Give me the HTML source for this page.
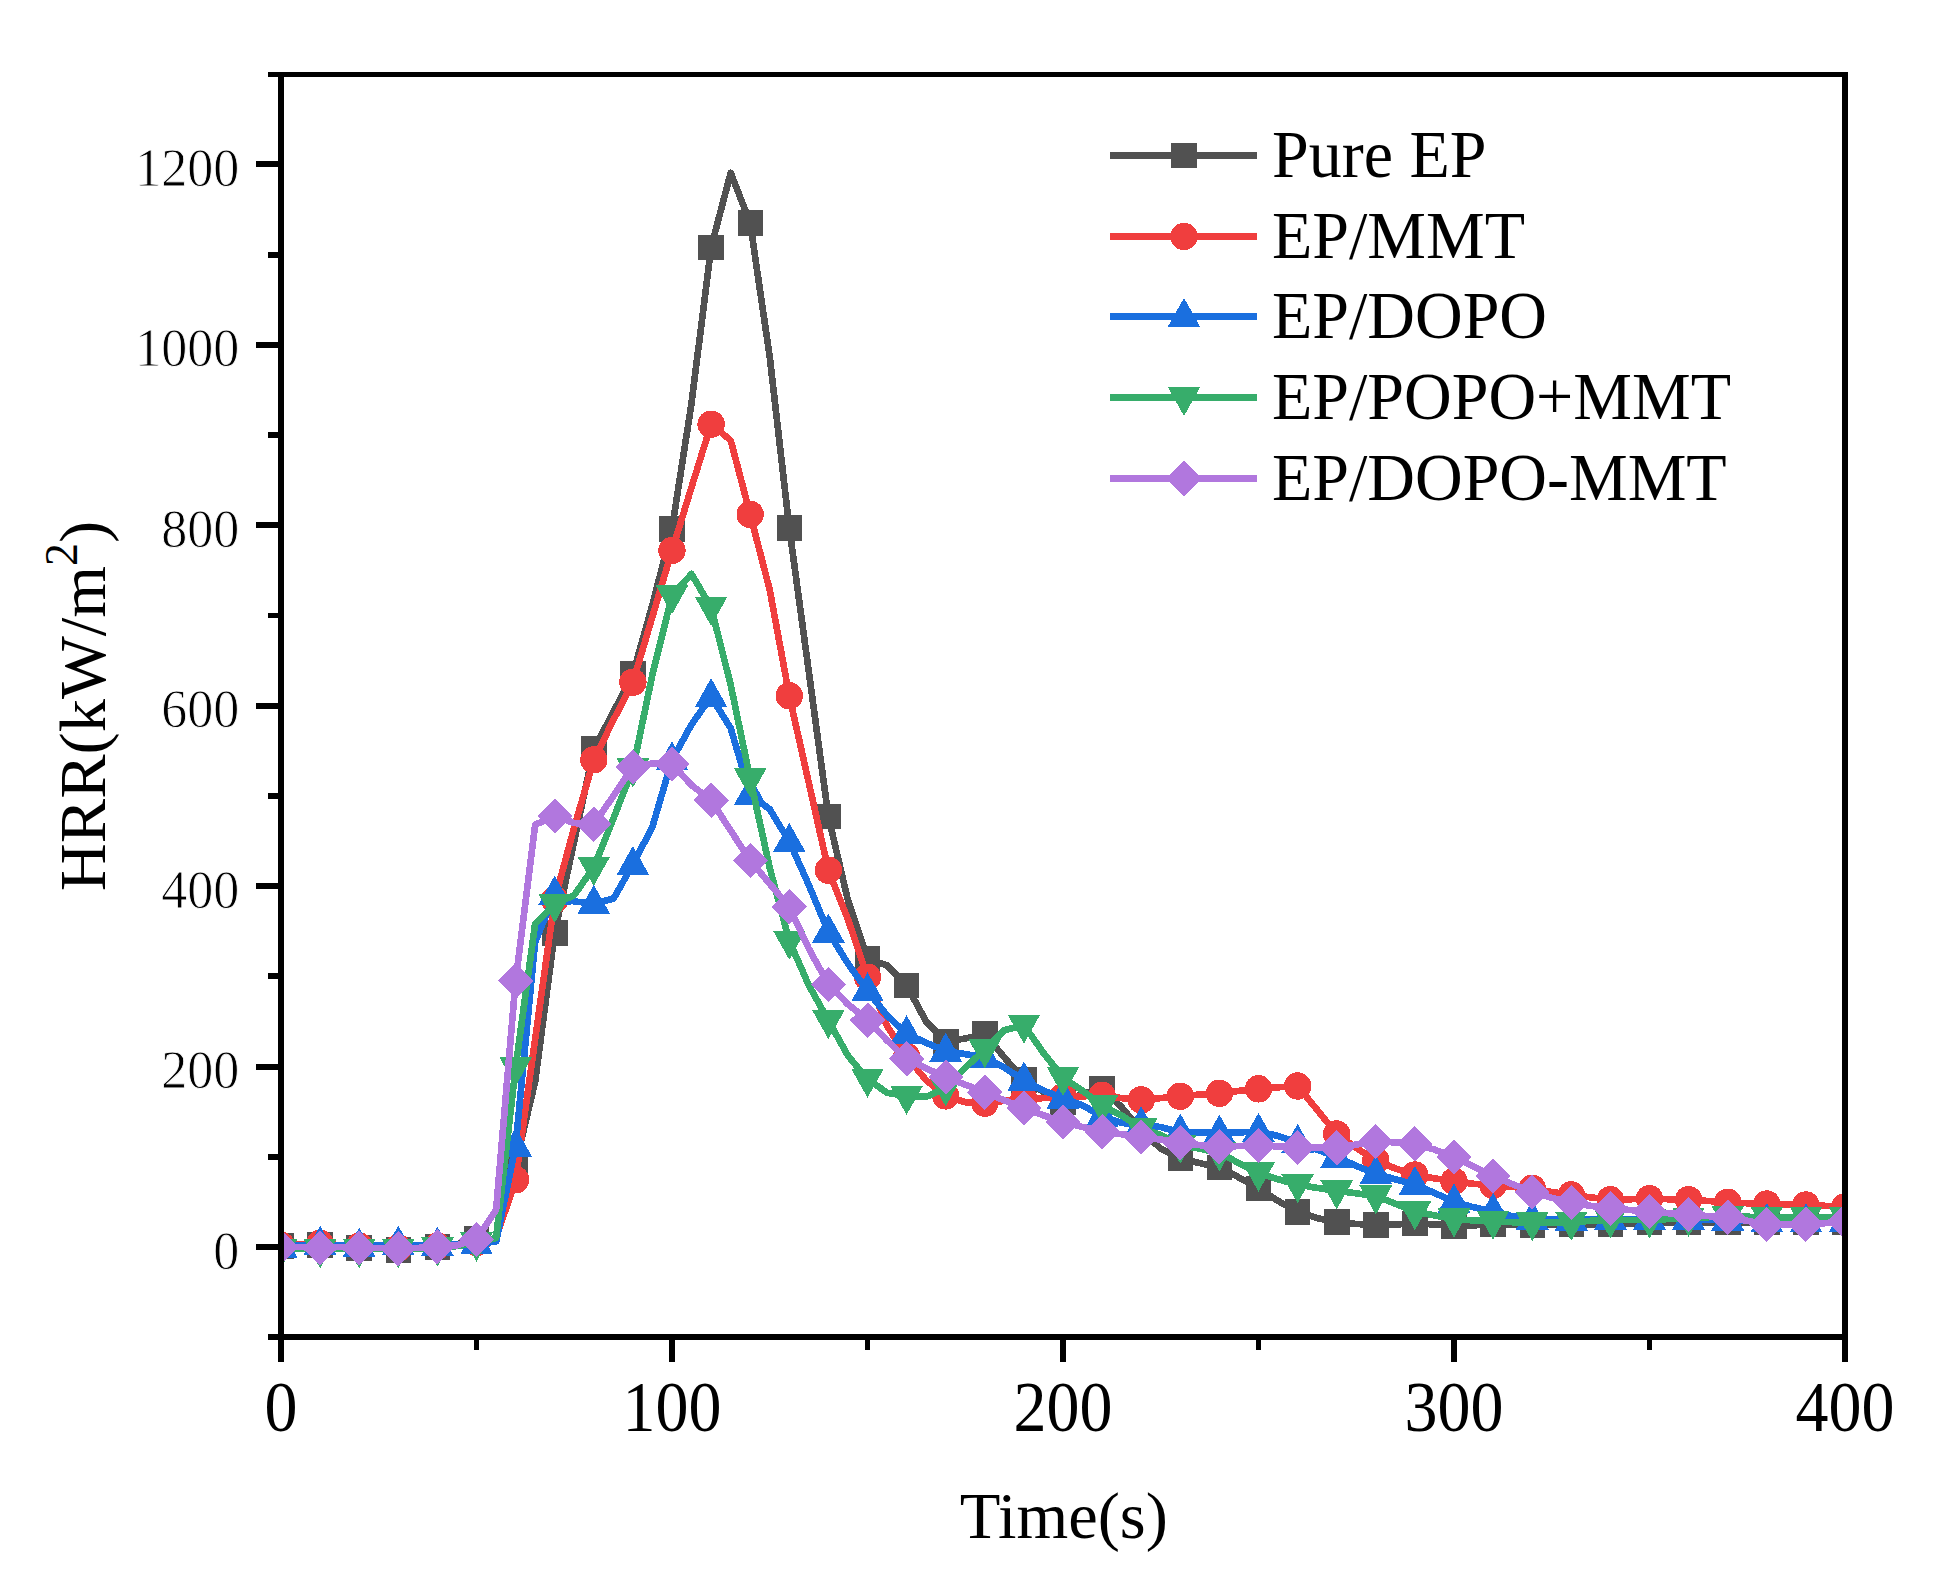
<!DOCTYPE html>
<html lang="en">
<head>
<meta charset="utf-8">
<title>HRR curves</title>
<style>
html,body{margin:0;padding:0;background:#fff;}
body{width:1936px;height:1582px;overflow:hidden;}
svg{display:block;}
text{font-family:"Liberation Serif",serif;fill:#000;}
.yt{font-size:52px;text-anchor:end;stroke:#fff;stroke-width:0.8px;}
.xt{font-size:66px;text-anchor:middle;}
.lg{font-size:66px;}
.ax{stroke:#000;stroke-width:5.9;fill:none;stroke-linecap:butt;}
</style>
</head>
<body>
<svg width="1936" height="1582" viewBox="0 0 1936 1582" shape-rendering="crispEdges">
<rect x="0" y="0" width="1936" height="1582" fill="#ffffff"/>
<defs><clipPath id="plot"><rect x="281" y="74" width="1564" height="1263"/></clipPath></defs>

<g clip-path="url(#plot)">
<g id="s-gray">
<polyline points="281.0,1246.1 300.6,1247.0 320.1,1245.2 339.6,1246.1 359.2,1247.9 378.8,1248.8 398.3,1249.7 417.9,1247.9 437.4,1247.0 457.0,1244.3 476.5,1238.9 496.1,1239.8 515.6,1164.0 535.1,1081.9 554.7,933.0 574.2,841.0 593.8,749.0 613.4,712.0 632.9,674.1 652.5,604.6 672.0,528.8 691.5,403.4 711.1,247.4 730.7,172.9 750.2,223.0 769.8,357.4 789.3,527.9 808.9,672.3 828.4,816.7 848.0,900.6 867.5,958.3 887.1,965.5 906.6,985.4 926.1,1021.5 945.7,1041.3 965.2,1038.6 984.8,1034.1 1004.4,1057.5 1023.9,1080.1 1043.5,1091.8 1063.0,1102.6 1082.6,1093.6 1102.1,1089.1 1121.7,1107.2 1141.2,1130.6 1160.8,1148.7 1180.3,1158.6 1199.8,1163.1 1219.4,1167.6 1239.0,1177.5 1258.5,1188.4 1278.1,1201.0 1297.6,1211.8 1317.2,1218.1 1336.7,1222.2 1356.2,1224.0 1375.8,1224.8 1395.4,1224.4 1414.9,1223.5 1434.5,1224.4 1454.0,1225.7 1473.5,1225.3 1493.1,1224.6 1512.7,1224.9 1532.2,1225.3 1551.8,1224.4 1571.3,1224.4 1590.9,1224.4 1610.4,1224.4 1630.0,1223.5 1649.5,1222.6 1669.0,1222.6 1688.6,1222.6 1708.2,1222.6 1727.7,1222.6 1747.2,1222.6 1766.8,1222.6 1786.4,1222.6 1805.9,1222.6 1825.5,1222.6 1845.0,1222.6" fill="none" stroke="#515151" stroke-width="6.7" stroke-linejoin="round" stroke-linecap="butt"/>
<rect x="268.2" y="1233.3" width="25.5" height="25.5" fill="#515151"/>
<rect x="307.4" y="1232.4" width="25.5" height="25.5" fill="#515151"/>
<rect x="346.4" y="1235.2" width="25.5" height="25.5" fill="#515151"/>
<rect x="385.6" y="1237.0" width="25.5" height="25.5" fill="#515151"/>
<rect x="424.6" y="1234.2" width="25.5" height="25.5" fill="#515151"/>
<rect x="463.8" y="1226.1" width="25.5" height="25.5" fill="#515151"/>
<rect x="502.9" y="1151.2" width="25.5" height="25.5" fill="#515151"/>
<rect x="542.0" y="920.3" width="25.5" height="25.5" fill="#515151"/>
<rect x="581.0" y="736.2" width="25.5" height="25.5" fill="#515151"/>
<rect x="620.2" y="661.4" width="25.5" height="25.5" fill="#515151"/>
<rect x="659.2" y="516.1" width="25.5" height="25.5" fill="#515151"/>
<rect x="698.4" y="234.6" width="25.5" height="25.5" fill="#515151"/>
<rect x="737.5" y="210.3" width="25.5" height="25.5" fill="#515151"/>
<rect x="776.5" y="515.2" width="25.5" height="25.5" fill="#515151"/>
<rect x="815.6" y="803.9" width="25.5" height="25.5" fill="#515151"/>
<rect x="854.8" y="945.5" width="25.5" height="25.5" fill="#515151"/>
<rect x="893.9" y="972.6" width="25.5" height="25.5" fill="#515151"/>
<rect x="933.0" y="1028.5" width="25.5" height="25.5" fill="#515151"/>
<rect x="972.1" y="1021.3" width="25.5" height="25.5" fill="#515151"/>
<rect x="1011.1" y="1067.3" width="25.5" height="25.5" fill="#515151"/>
<rect x="1050.2" y="1089.9" width="25.5" height="25.5" fill="#515151"/>
<rect x="1089.3" y="1076.4" width="25.5" height="25.5" fill="#515151"/>
<rect x="1128.5" y="1117.9" width="25.5" height="25.5" fill="#515151"/>
<rect x="1167.6" y="1145.8" width="25.5" height="25.5" fill="#515151"/>
<rect x="1206.7" y="1154.9" width="25.5" height="25.5" fill="#515151"/>
<rect x="1245.8" y="1175.6" width="25.5" height="25.5" fill="#515151"/>
<rect x="1284.8" y="1199.1" width="25.5" height="25.5" fill="#515151"/>
<rect x="1324.0" y="1209.4" width="25.5" height="25.5" fill="#515151"/>
<rect x="1363.0" y="1212.1" width="25.5" height="25.5" fill="#515151"/>
<rect x="1402.2" y="1210.8" width="25.5" height="25.5" fill="#515151"/>
<rect x="1441.2" y="1213.0" width="25.5" height="25.5" fill="#515151"/>
<rect x="1480.4" y="1211.9" width="25.5" height="25.5" fill="#515151"/>
<rect x="1519.5" y="1212.6" width="25.5" height="25.5" fill="#515151"/>
<rect x="1558.5" y="1211.7" width="25.5" height="25.5" fill="#515151"/>
<rect x="1597.7" y="1211.7" width="25.5" height="25.5" fill="#515151"/>
<rect x="1636.8" y="1209.9" width="25.5" height="25.5" fill="#515151"/>
<rect x="1675.9" y="1209.9" width="25.5" height="25.5" fill="#515151"/>
<rect x="1715.0" y="1209.9" width="25.5" height="25.5" fill="#515151"/>
<rect x="1754.0" y="1209.9" width="25.5" height="25.5" fill="#515151"/>
<rect x="1793.2" y="1209.9" width="25.5" height="25.5" fill="#515151"/>
<rect x="1832.2" y="1209.9" width="25.5" height="25.5" fill="#515151"/>
</g>
<g id="s-red">
<polyline points="281.0,1245.2 300.6,1244.3 320.1,1243.4 339.6,1245.2 359.2,1246.1 378.8,1247.0 398.3,1247.9 417.9,1247.0 437.4,1246.1 457.0,1244.3 476.5,1242.5 496.1,1238.0 515.6,1179.8 535.1,1039.5 554.7,899.7 574.2,827.5 593.8,759.8 613.4,720.1 632.9,682.2 652.5,616.4 672.0,550.5 691.5,487.3 711.1,424.2 730.7,440.4 750.2,514.4 769.8,590.2 789.3,695.8 808.9,783.3 828.4,870.2 848.0,919.5 867.5,977.2 887.1,1026.0 906.6,1056.6 926.1,1080.1 945.7,1095.9 965.2,1102.2 984.8,1103.2 1004.4,1100.8 1023.9,1099.0 1043.5,1098.1 1063.0,1096.9 1082.6,1096.3 1102.1,1095.4 1121.7,1098.1 1141.2,1099.9 1160.8,1098.1 1180.3,1096.3 1199.8,1094.5 1219.4,1093.3 1239.0,1090.9 1258.5,1088.8 1278.1,1087.3 1297.6,1086.0 1317.2,1109.9 1336.7,1134.0 1356.2,1147.8 1375.8,1160.4 1395.4,1168.5 1414.9,1175.0 1434.5,1178.4 1454.0,1181.2 1473.5,1183.8 1493.1,1185.4 1512.7,1187.0 1532.2,1188.3 1551.8,1192.0 1571.3,1194.9 1590.9,1197.4 1610.4,1199.7 1630.0,1199.2 1649.5,1198.7 1669.0,1199.2 1688.6,1199.7 1708.2,1201.0 1727.7,1202.3 1747.2,1203.2 1766.8,1204.0 1786.4,1204.6 1805.9,1205.0 1825.5,1205.9 1845.0,1206.9" fill="none" stroke="#F03E3E" stroke-width="6.7" stroke-linejoin="round" stroke-linecap="butt"/>
<circle cx="281.0" cy="1245.2" r="13.7" fill="#F03E3E"/>
<circle cx="320.1" cy="1243.4" r="13.7" fill="#F03E3E"/>
<circle cx="359.2" cy="1246.1" r="13.7" fill="#F03E3E"/>
<circle cx="398.3" cy="1247.9" r="13.7" fill="#F03E3E"/>
<circle cx="437.4" cy="1246.1" r="13.7" fill="#F03E3E"/>
<circle cx="476.5" cy="1242.5" r="13.7" fill="#F03E3E"/>
<circle cx="515.6" cy="1179.8" r="13.7" fill="#F03E3E"/>
<circle cx="554.7" cy="899.7" r="13.7" fill="#F03E3E"/>
<circle cx="593.8" cy="759.8" r="13.7" fill="#F03E3E"/>
<circle cx="632.9" cy="682.2" r="13.7" fill="#F03E3E"/>
<circle cx="672.0" cy="550.5" r="13.7" fill="#F03E3E"/>
<circle cx="711.1" cy="424.2" r="13.7" fill="#F03E3E"/>
<circle cx="750.2" cy="514.4" r="13.7" fill="#F03E3E"/>
<circle cx="789.3" cy="695.8" r="13.7" fill="#F03E3E"/>
<circle cx="828.4" cy="870.2" r="13.7" fill="#F03E3E"/>
<circle cx="867.5" cy="977.2" r="13.7" fill="#F03E3E"/>
<circle cx="906.6" cy="1056.6" r="13.7" fill="#F03E3E"/>
<circle cx="945.7" cy="1095.9" r="13.7" fill="#F03E3E"/>
<circle cx="984.8" cy="1103.2" r="13.7" fill="#F03E3E"/>
<circle cx="1023.9" cy="1099.0" r="13.7" fill="#F03E3E"/>
<circle cx="1063.0" cy="1096.9" r="13.7" fill="#F03E3E"/>
<circle cx="1102.1" cy="1095.4" r="13.7" fill="#F03E3E"/>
<circle cx="1141.2" cy="1099.9" r="13.7" fill="#F03E3E"/>
<circle cx="1180.3" cy="1096.3" r="13.7" fill="#F03E3E"/>
<circle cx="1219.4" cy="1093.3" r="13.7" fill="#F03E3E"/>
<circle cx="1258.5" cy="1088.8" r="13.7" fill="#F03E3E"/>
<circle cx="1297.6" cy="1086.0" r="13.7" fill="#F03E3E"/>
<circle cx="1336.7" cy="1134.0" r="13.7" fill="#F03E3E"/>
<circle cx="1375.8" cy="1160.4" r="13.7" fill="#F03E3E"/>
<circle cx="1414.9" cy="1175.0" r="13.7" fill="#F03E3E"/>
<circle cx="1454.0" cy="1181.2" r="13.7" fill="#F03E3E"/>
<circle cx="1493.1" cy="1185.4" r="13.7" fill="#F03E3E"/>
<circle cx="1532.2" cy="1188.3" r="13.7" fill="#F03E3E"/>
<circle cx="1571.3" cy="1194.9" r="13.7" fill="#F03E3E"/>
<circle cx="1610.4" cy="1199.7" r="13.7" fill="#F03E3E"/>
<circle cx="1649.5" cy="1198.7" r="13.7" fill="#F03E3E"/>
<circle cx="1688.6" cy="1199.7" r="13.7" fill="#F03E3E"/>
<circle cx="1727.7" cy="1202.3" r="13.7" fill="#F03E3E"/>
<circle cx="1766.8" cy="1204.0" r="13.7" fill="#F03E3E"/>
<circle cx="1805.9" cy="1205.0" r="13.7" fill="#F03E3E"/>
<circle cx="1845.0" cy="1206.9" r="13.7" fill="#F03E3E"/>
</g>
<g id="s-blue">
<polyline points="281.0,1247.0 300.6,1245.2 320.1,1244.3 339.6,1245.2 359.2,1246.1 378.8,1245.2 398.3,1244.3 417.9,1245.2 437.4,1245.2 457.0,1244.3 476.5,1243.7 496.1,1241.6 515.6,1146.0 535.1,942.1 554.7,894.2 574.2,901.5 593.8,903.3 613.4,898.8 632.9,864.5 652.5,826.6 672.0,759.8 691.5,724.6 711.1,696.7 730.7,728.2 750.2,794.5 769.8,809.4 789.3,841.5 808.9,885.2 828.4,932.1 848.0,963.7 867.5,990.8 887.1,1015.6 906.6,1033.7 926.1,1042.7 945.7,1051.2 965.2,1054.1 984.8,1057.5 1004.4,1067.7 1023.9,1080.1 1043.5,1090.6 1063.0,1098.0 1082.6,1105.4 1102.1,1116.2 1121.7,1122.9 1141.2,1124.8 1160.8,1127.1 1180.3,1132.1 1199.8,1132.4 1219.4,1133.1 1239.0,1132.4 1258.5,1131.4 1278.1,1136.0 1297.6,1142.4 1317.2,1149.6 1336.7,1157.1 1356.2,1165.8 1375.8,1173.7 1395.4,1179.3 1414.9,1184.6 1434.5,1192.9 1454.0,1201.9 1473.5,1207.3 1493.1,1211.3 1512.7,1216.3 1532.2,1219.0 1551.8,1219.5 1571.3,1219.9 1590.9,1219.5 1610.4,1219.0 1630.0,1219.0 1649.5,1219.0 1669.0,1219.0 1688.6,1219.0 1708.2,1219.5 1727.7,1219.9 1747.2,1220.8 1766.8,1221.7 1786.4,1221.7 1805.9,1221.7 1825.5,1221.7 1845.0,1221.7" fill="none" stroke="#1A6FDF" stroke-width="6.7" stroke-linejoin="round" stroke-linecap="butt"/>
<polygon points="281.0,1228.4 297.4,1257.6 264.6,1257.6" fill="#1A6FDF"/>
<polygon points="320.1,1225.7 336.5,1254.9 303.7,1254.9" fill="#1A6FDF"/>
<polygon points="359.2,1227.5 375.6,1256.7 342.8,1256.7" fill="#1A6FDF"/>
<polygon points="398.3,1225.7 414.7,1254.9 381.9,1254.9" fill="#1A6FDF"/>
<polygon points="437.4,1226.6 453.8,1255.8 421.0,1255.8" fill="#1A6FDF"/>
<polygon points="476.5,1225.1 492.9,1254.3 460.1,1254.3" fill="#1A6FDF"/>
<polygon points="515.6,1127.4 532.0,1156.6 499.2,1156.6" fill="#1A6FDF"/>
<polygon points="554.7,875.6 571.1,904.8 538.3,904.8" fill="#1A6FDF"/>
<polygon points="593.8,884.7 610.2,913.9 577.4,913.9" fill="#1A6FDF"/>
<polygon points="632.9,845.9 649.3,875.1 616.5,875.1" fill="#1A6FDF"/>
<polygon points="672.0,741.2 688.4,770.4 655.6,770.4" fill="#1A6FDF"/>
<polygon points="711.1,678.1 727.5,707.3 694.7,707.3" fill="#1A6FDF"/>
<polygon points="750.2,775.9 766.6,805.1 733.8,805.1" fill="#1A6FDF"/>
<polygon points="789.3,822.9 805.7,852.1 772.9,852.1" fill="#1A6FDF"/>
<polygon points="828.4,913.5 844.8,942.7 812.0,942.7" fill="#1A6FDF"/>
<polygon points="867.5,972.2 883.9,1001.4 851.1,1001.4" fill="#1A6FDF"/>
<polygon points="906.6,1015.1 923.0,1044.3 890.2,1044.3" fill="#1A6FDF"/>
<polygon points="945.7,1032.6 962.1,1061.8 929.3,1061.8" fill="#1A6FDF"/>
<polygon points="984.8,1038.9 1001.2,1068.1 968.4,1068.1" fill="#1A6FDF"/>
<polygon points="1023.9,1061.5 1040.3,1090.7 1007.5,1090.7" fill="#1A6FDF"/>
<polygon points="1063.0,1079.4 1079.4,1108.6 1046.6,1108.6" fill="#1A6FDF"/>
<polygon points="1102.1,1097.6 1118.5,1126.8 1085.7,1126.8" fill="#1A6FDF"/>
<polygon points="1141.2,1106.2 1157.6,1135.4 1124.8,1135.4" fill="#1A6FDF"/>
<polygon points="1180.3,1113.5 1196.7,1142.7 1163.9,1142.7" fill="#1A6FDF"/>
<polygon points="1219.4,1114.5 1235.8,1143.7 1203.0,1143.7" fill="#1A6FDF"/>
<polygon points="1258.5,1112.8 1274.9,1142.0 1242.1,1142.0" fill="#1A6FDF"/>
<polygon points="1297.6,1123.8 1314.0,1153.0 1281.2,1153.0" fill="#1A6FDF"/>
<polygon points="1336.7,1138.5 1353.1,1167.7 1320.3,1167.7" fill="#1A6FDF"/>
<polygon points="1375.8,1155.1 1392.2,1184.3 1359.4,1184.3" fill="#1A6FDF"/>
<polygon points="1414.9,1166.0 1431.3,1195.2 1398.5,1195.2" fill="#1A6FDF"/>
<polygon points="1454.0,1183.3 1470.4,1212.5 1437.6,1212.5" fill="#1A6FDF"/>
<polygon points="1493.1,1192.7 1509.5,1221.9 1476.7,1221.9" fill="#1A6FDF"/>
<polygon points="1532.2,1200.4 1548.6,1229.6 1515.8,1229.6" fill="#1A6FDF"/>
<polygon points="1571.3,1201.3 1587.7,1230.5 1554.9,1230.5" fill="#1A6FDF"/>
<polygon points="1610.4,1200.4 1626.8,1229.6 1594.0,1229.6" fill="#1A6FDF"/>
<polygon points="1649.5,1200.4 1665.9,1229.6 1633.1,1229.6" fill="#1A6FDF"/>
<polygon points="1688.6,1200.4 1705.0,1229.6 1672.2,1229.6" fill="#1A6FDF"/>
<polygon points="1727.7,1201.3 1744.1,1230.5 1711.3,1230.5" fill="#1A6FDF"/>
<polygon points="1766.8,1203.1 1783.2,1232.3 1750.4,1232.3" fill="#1A6FDF"/>
<polygon points="1805.9,1203.1 1822.3,1232.3 1789.5,1232.3" fill="#1A6FDF"/>
<polygon points="1845.0,1203.1 1861.4,1232.3 1828.6,1232.3" fill="#1A6FDF"/>
</g>
<g id="s-green">
<polyline points="281.0,1249.7 300.6,1248.8 320.1,1249.7 339.6,1248.8 359.2,1249.7 378.8,1248.8 398.3,1249.7 417.9,1248.8 437.4,1247.9 457.0,1246.1 476.5,1243.0 496.1,1238.0 515.6,1067.5 535.1,924.0 554.7,904.2 574.2,895.1 593.8,867.2 613.4,818.5 632.9,768.8 652.5,674.1 672.0,595.6 691.5,574.0 711.1,607.3 730.7,684.9 750.2,778.8 769.8,868.1 789.3,941.2 808.9,985.4 828.4,1020.5 848.0,1055.7 867.5,1079.2 887.1,1092.7 906.6,1096.3 926.1,1096.9 945.7,1087.8 965.2,1067.7 984.8,1049.6 1004.4,1030.2 1023.9,1025.1 1043.5,1053.0 1063.0,1077.4 1082.6,1090.9 1102.1,1105.4 1121.7,1115.6 1141.2,1128.4 1160.8,1135.1 1180.3,1145.1 1199.8,1148.7 1219.4,1152.9 1239.0,1163.1 1258.5,1173.0 1278.1,1179.3 1297.6,1184.6 1317.2,1187.9 1336.7,1190.8 1356.2,1193.3 1375.8,1196.0 1395.4,1203.7 1414.9,1211.7 1434.5,1215.4 1454.0,1219.0 1473.5,1220.4 1493.1,1221.3 1512.7,1222.2 1532.2,1222.6 1551.8,1222.6 1571.3,1222.2 1590.9,1220.8 1610.4,1219.9 1630.0,1219.9 1649.5,1219.9 1669.0,1219.0 1688.6,1218.1 1708.2,1217.2 1727.7,1216.3 1747.2,1216.8 1766.8,1217.2 1786.4,1217.2 1805.9,1217.2 1825.5,1217.2 1845.0,1217.2" fill="none" stroke="#37AD6B" stroke-width="6.7" stroke-linejoin="round" stroke-linecap="butt"/>
<polygon points="264.6,1239.1 297.4,1239.1 281.0,1268.3" fill="#37AD6B"/>
<polygon points="303.7,1239.1 336.5,1239.1 320.1,1268.3" fill="#37AD6B"/>
<polygon points="342.8,1239.1 375.6,1239.1 359.2,1268.3" fill="#37AD6B"/>
<polygon points="381.9,1239.1 414.7,1239.1 398.3,1268.3" fill="#37AD6B"/>
<polygon points="421.0,1237.3 453.8,1237.3 437.4,1266.5" fill="#37AD6B"/>
<polygon points="460.1,1232.4 492.9,1232.4 476.5,1261.6" fill="#37AD6B"/>
<polygon points="499.2,1056.9 532.0,1056.9 515.6,1086.1" fill="#37AD6B"/>
<polygon points="538.3,893.6 571.1,893.6 554.7,922.8" fill="#37AD6B"/>
<polygon points="577.4,856.6 610.2,856.6 593.8,885.8" fill="#37AD6B"/>
<polygon points="616.5,758.2 649.3,758.2 632.9,787.4" fill="#37AD6B"/>
<polygon points="655.6,585.0 688.4,585.0 672.0,614.2" fill="#37AD6B"/>
<polygon points="694.7,596.7 727.5,596.7 711.1,625.9" fill="#37AD6B"/>
<polygon points="733.8,768.2 766.6,768.2 750.2,797.4" fill="#37AD6B"/>
<polygon points="772.9,930.6 805.7,930.6 789.3,959.8" fill="#37AD6B"/>
<polygon points="812.0,1009.9 844.8,1009.9 828.4,1039.1" fill="#37AD6B"/>
<polygon points="851.1,1068.6 883.9,1068.6 867.5,1097.8" fill="#37AD6B"/>
<polygon points="890.2,1085.7 923.0,1085.7 906.6,1114.9" fill="#37AD6B"/>
<polygon points="929.3,1077.2 962.1,1077.2 945.7,1106.4" fill="#37AD6B"/>
<polygon points="968.4,1039.0 1001.2,1039.0 984.8,1068.2" fill="#37AD6B"/>
<polygon points="1007.5,1014.5 1040.3,1014.5 1023.9,1043.7" fill="#37AD6B"/>
<polygon points="1046.6,1066.8 1079.4,1066.8 1063.0,1096.0" fill="#37AD6B"/>
<polygon points="1085.7,1094.8 1118.5,1094.8 1102.1,1124.0" fill="#37AD6B"/>
<polygon points="1124.8,1117.8 1157.6,1117.8 1141.2,1147.0" fill="#37AD6B"/>
<polygon points="1163.9,1134.5 1196.7,1134.5 1180.3,1163.7" fill="#37AD6B"/>
<polygon points="1203.0,1142.3 1235.8,1142.3 1219.4,1171.5" fill="#37AD6B"/>
<polygon points="1242.1,1162.4 1274.9,1162.4 1258.5,1191.6" fill="#37AD6B"/>
<polygon points="1281.2,1174.0 1314.0,1174.0 1297.6,1203.2" fill="#37AD6B"/>
<polygon points="1320.3,1180.2 1353.1,1180.2 1336.7,1209.4" fill="#37AD6B"/>
<polygon points="1359.4,1185.4 1392.2,1185.4 1375.8,1214.6" fill="#37AD6B"/>
<polygon points="1398.5,1201.1 1431.3,1201.1 1414.9,1230.3" fill="#37AD6B"/>
<polygon points="1437.6,1208.4 1470.4,1208.4 1454.0,1237.6" fill="#37AD6B"/>
<polygon points="1476.7,1210.7 1509.5,1210.7 1493.1,1239.9" fill="#37AD6B"/>
<polygon points="1515.8,1212.0 1548.6,1212.0 1532.2,1241.2" fill="#37AD6B"/>
<polygon points="1554.9,1211.6 1587.7,1211.6 1571.3,1240.8" fill="#37AD6B"/>
<polygon points="1594.0,1209.3 1626.8,1209.3 1610.4,1238.5" fill="#37AD6B"/>
<polygon points="1633.1,1209.3 1665.9,1209.3 1649.5,1238.5" fill="#37AD6B"/>
<polygon points="1672.2,1207.5 1705.0,1207.5 1688.6,1236.7" fill="#37AD6B"/>
<polygon points="1711.3,1205.7 1744.1,1205.7 1727.7,1234.9" fill="#37AD6B"/>
<polygon points="1750.4,1206.6 1783.2,1206.6 1766.8,1235.8" fill="#37AD6B"/>
<polygon points="1789.5,1206.6 1822.3,1206.6 1805.9,1235.8" fill="#37AD6B"/>
<polygon points="1828.6,1206.6 1861.4,1206.6 1845.0,1235.8" fill="#37AD6B"/>
</g>
<g id="s-purple">
<polyline points="281.0,1247.0 300.6,1247.0 320.1,1247.9 339.6,1247.0 359.2,1247.9 378.8,1247.9 398.3,1248.8 417.9,1247.9 437.4,1247.0 457.0,1245.2 476.5,1239.3 496.1,1210.0 515.6,980.9 535.1,824.8 554.7,816.0 574.2,823.0 593.8,824.4 613.4,795.9 632.9,767.0 652.5,763.4 672.0,763.9 691.5,785.1 711.1,800.4 730.7,830.6 750.2,860.5 769.8,883.9 789.3,906.9 808.9,948.8 828.4,984.3 848.0,1004.3 867.5,1020.1 887.1,1040.4 906.6,1058.9 926.1,1068.4 945.7,1077.1 965.2,1084.6 984.8,1092.3 1004.4,1100.4 1023.9,1108.3 1043.5,1115.3 1063.0,1122.0 1082.6,1127.0 1102.1,1131.7 1121.7,1134.2 1141.2,1136.9 1160.8,1139.6 1180.3,1142.8 1199.8,1145.1 1219.4,1146.9 1239.0,1146.0 1258.5,1145.4 1278.1,1146.4 1297.6,1147.5 1317.2,1147.8 1336.7,1147.8 1356.2,1144.6 1375.8,1141.6 1395.4,1142.3 1414.9,1143.7 1434.5,1149.6 1454.0,1156.9 1473.5,1166.3 1493.1,1176.0 1512.7,1184.3 1532.2,1192.2 1551.8,1197.8 1571.3,1202.7 1590.9,1205.9 1610.4,1208.5 1630.0,1210.0 1649.5,1211.5 1669.0,1213.2 1688.6,1214.8 1708.2,1216.1 1727.7,1217.2 1747.2,1220.8 1766.8,1224.5 1786.4,1224.5 1805.9,1224.5 1825.5,1223.1 1845.0,1221.5" fill="none" stroke="#B177DE" stroke-width="6.7" stroke-linejoin="round" stroke-linecap="butt"/>
<polygon points="281.0,1229.4 298.6,1247.0 281.0,1264.6 263.4,1247.0" fill="#B177DE"/>
<polygon points="320.1,1230.3 337.7,1247.9 320.1,1265.5 302.5,1247.9" fill="#B177DE"/>
<polygon points="359.2,1230.3 376.8,1247.9 359.2,1265.5 341.6,1247.9" fill="#B177DE"/>
<polygon points="398.3,1231.2 415.9,1248.8 398.3,1266.4 380.7,1248.8" fill="#B177DE"/>
<polygon points="437.4,1229.4 455.0,1247.0 437.4,1264.6 419.8,1247.0" fill="#B177DE"/>
<polygon points="476.5,1221.7 494.1,1239.3 476.5,1256.9 458.9,1239.3" fill="#B177DE"/>
<polygon points="515.6,963.3 533.2,980.9 515.6,998.5 498.0,980.9" fill="#B177DE"/>
<polygon points="554.7,798.4 572.3,816.0 554.7,833.6 537.1,816.0" fill="#B177DE"/>
<polygon points="593.8,806.8 611.4,824.4 593.8,842.0 576.2,824.4" fill="#B177DE"/>
<polygon points="632.9,749.4 650.5,767.0 632.9,784.6 615.3,767.0" fill="#B177DE"/>
<polygon points="672.0,746.3 689.6,763.9 672.0,781.5 654.4,763.9" fill="#B177DE"/>
<polygon points="711.1,782.8 728.7,800.4 711.1,818.0 693.5,800.4" fill="#B177DE"/>
<polygon points="750.2,842.9 767.8,860.5 750.2,878.1 732.6,860.5" fill="#B177DE"/>
<polygon points="789.3,889.3 806.9,906.9 789.3,924.5 771.7,906.9" fill="#B177DE"/>
<polygon points="828.4,966.7 846.0,984.3 828.4,1001.9 810.8,984.3" fill="#B177DE"/>
<polygon points="867.5,1002.5 885.1,1020.1 867.5,1037.7 849.9,1020.1" fill="#B177DE"/>
<polygon points="906.6,1041.3 924.2,1058.9 906.6,1076.5 889.0,1058.9" fill="#B177DE"/>
<polygon points="945.7,1059.5 963.3,1077.1 945.7,1094.7 928.1,1077.1" fill="#B177DE"/>
<polygon points="984.8,1074.7 1002.4,1092.3 984.8,1109.9 967.2,1092.3" fill="#B177DE"/>
<polygon points="1023.9,1090.7 1041.5,1108.3 1023.9,1125.9 1006.3,1108.3" fill="#B177DE"/>
<polygon points="1063.0,1104.4 1080.6,1122.0 1063.0,1139.6 1045.4,1122.0" fill="#B177DE"/>
<polygon points="1102.1,1114.1 1119.7,1131.7 1102.1,1149.3 1084.5,1131.7" fill="#B177DE"/>
<polygon points="1141.2,1119.3 1158.8,1136.9 1141.2,1154.5 1123.6,1136.9" fill="#B177DE"/>
<polygon points="1180.3,1125.2 1197.9,1142.8 1180.3,1160.4 1162.7,1142.8" fill="#B177DE"/>
<polygon points="1219.4,1129.3 1237.0,1146.9 1219.4,1164.5 1201.8,1146.9" fill="#B177DE"/>
<polygon points="1258.5,1127.8 1276.1,1145.4 1258.5,1163.0 1240.9,1145.4" fill="#B177DE"/>
<polygon points="1297.6,1129.9 1315.2,1147.5 1297.6,1165.1 1280.0,1147.5" fill="#B177DE"/>
<polygon points="1336.7,1130.2 1354.3,1147.8 1336.7,1165.4 1319.1,1147.8" fill="#B177DE"/>
<polygon points="1375.8,1124.0 1393.4,1141.6 1375.8,1159.2 1358.2,1141.6" fill="#B177DE"/>
<polygon points="1414.9,1126.1 1432.5,1143.7 1414.9,1161.3 1397.3,1143.7" fill="#B177DE"/>
<polygon points="1454.0,1139.3 1471.6,1156.9 1454.0,1174.5 1436.4,1156.9" fill="#B177DE"/>
<polygon points="1493.1,1158.4 1510.7,1176.0 1493.1,1193.6 1475.5,1176.0" fill="#B177DE"/>
<polygon points="1532.2,1174.6 1549.8,1192.2 1532.2,1209.8 1514.6,1192.2" fill="#B177DE"/>
<polygon points="1571.3,1185.1 1588.9,1202.7 1571.3,1220.3 1553.7,1202.7" fill="#B177DE"/>
<polygon points="1610.4,1190.9 1628.0,1208.5 1610.4,1226.1 1592.8,1208.5" fill="#B177DE"/>
<polygon points="1649.5,1193.9 1667.1,1211.5 1649.5,1229.1 1631.9,1211.5" fill="#B177DE"/>
<polygon points="1688.6,1197.2 1706.2,1214.8 1688.6,1232.4 1671.0,1214.8" fill="#B177DE"/>
<polygon points="1727.7,1199.6 1745.3,1217.2 1727.7,1234.8 1710.1,1217.2" fill="#B177DE"/>
<polygon points="1766.8,1206.9 1784.4,1224.5 1766.8,1242.1 1749.2,1224.5" fill="#B177DE"/>
<polygon points="1805.9,1206.9 1823.5,1224.5 1805.9,1242.1 1788.3,1224.5" fill="#B177DE"/>
<polygon points="1845.0,1203.9 1862.6,1221.5 1845.0,1239.1 1827.4,1221.5" fill="#B177DE"/>
</g>
</g>
<g class="ax">
<line x1="281.0" y1="71.7" x2="281.0" y2="1362.2"/>
<line x1="1845.0" y1="71.7" x2="1845.0" y2="1362.2"/>
<line x1="268.0" y1="74.7" x2="1848.0" y2="74.7" stroke-width="5.4"/>
<line x1="268.0" y1="1337.2" x2="1848.0" y2="1337.2"/>
<line x1="256.0" y1="1247.0" x2="281.0" y2="1247.0"/>
<line x1="268.0" y1="1156.8" x2="281.0" y2="1156.8"/>
<line x1="256.0" y1="1066.6" x2="281.0" y2="1066.6"/>
<line x1="268.0" y1="976.3" x2="281.0" y2="976.3"/>
<line x1="256.0" y1="886.1" x2="281.0" y2="886.1"/>
<line x1="268.0" y1="795.9" x2="281.0" y2="795.9"/>
<line x1="256.0" y1="705.7" x2="281.0" y2="705.7"/>
<line x1="268.0" y1="615.5" x2="281.0" y2="615.5"/>
<line x1="256.0" y1="525.2" x2="281.0" y2="525.2"/>
<line x1="268.0" y1="435.0" x2="281.0" y2="435.0"/>
<line x1="256.0" y1="344.8" x2="281.0" y2="344.8"/>
<line x1="268.0" y1="254.6" x2="281.0" y2="254.6"/>
<line x1="256.0" y1="164.4" x2="281.0" y2="164.4"/>
<line x1="281.0" y1="1337.2" x2="281.0" y2="1362.2"/>
<line x1="476.5" y1="1337.2" x2="476.5" y2="1350.2"/>
<line x1="672.0" y1="1337.2" x2="672.0" y2="1362.2"/>
<line x1="867.5" y1="1337.2" x2="867.5" y2="1350.2"/>
<line x1="1063.0" y1="1337.2" x2="1063.0" y2="1362.2"/>
<line x1="1258.5" y1="1337.2" x2="1258.5" y2="1350.2"/>
<line x1="1454.0" y1="1337.2" x2="1454.0" y2="1362.2"/>
<line x1="1649.5" y1="1337.2" x2="1649.5" y2="1350.2"/>
<line x1="1845.0" y1="1337.2" x2="1845.0" y2="1362.2"/>
</g>
<text class="yt" transform="translate(239.3,1250.0) scale(1,1.06)" x="0" y="17.6">0</text>
<text class="yt" transform="translate(239.3,1069.6) scale(1,1.06)" x="0" y="17.6">200</text>
<text class="yt" transform="translate(239.3,889.1) scale(1,1.06)" x="0" y="17.6">400</text>
<text class="yt" transform="translate(239.3,708.7) scale(1,1.06)" x="0" y="17.6">600</text>
<text class="yt" transform="translate(239.3,528.2) scale(1,1.06)" x="0" y="17.6">800</text>
<text class="yt" transform="translate(239.3,347.8) scale(1,1.06)" x="0" y="17.6">1000</text>
<text class="yt" transform="translate(239.3,167.4) scale(1,1.06)" x="0" y="17.6">1200</text>
<text class="xt" transform="translate(281.0,1431) scale(1,1.075)" x="0" y="0">0</text>
<text class="xt" transform="translate(672.0,1431) scale(1,1.075)" x="0" y="0">100</text>
<text class="xt" transform="translate(1063.0,1431) scale(1,1.075)" x="0" y="0">200</text>
<text class="xt" transform="translate(1454.0,1431) scale(1,1.075)" x="0" y="0">300</text>
<text class="xt" transform="translate(1845.0,1431) scale(1,1.075)" x="0" y="0">400</text>
<text class="lg" x="1063.8" y="1537.6" text-anchor="middle" style="font-size:66.5px">Time(s)</text>
<text class="lg" transform="translate(105,891.2) rotate(-90)" text-anchor="start" style="font-size:66.5px">HRR(kW/m<tspan font-size="46" dy="-28">2</tspan><tspan dy="28">)</tspan></text>
<line x1="1110" y1="155.5" x2="1257" y2="155.5" stroke="#515151" stroke-width="6.7"/>
<rect x="1171.2" y="142.8" width="25.5" height="25.5" fill="#515151"/>
<text class="lg" transform="translate(1272,177.2) scale(1,1.034)" x="0" y="0">Pure EP</text>
<line x1="1110" y1="236.5" x2="1257" y2="236.5" stroke="#F03E3E" stroke-width="6.7"/>
<circle cx="1184.0" cy="236.5" r="13.7" fill="#F03E3E"/>
<text class="lg" transform="translate(1272,258.2) scale(1,1.034)" x="0" y="0">EP/MMT</text>
<line x1="1110" y1="316.5" x2="1257" y2="316.5" stroke="#1A6FDF" stroke-width="6.7"/>
<polygon points="1184.0,297.9 1200.4,327.1 1167.6,327.1" fill="#1A6FDF"/>
<text class="lg" transform="translate(1272,338.2) scale(1,1.034)" x="0" y="0">EP/DOPO</text>
<line x1="1110" y1="397.4" x2="1257" y2="397.4" stroke="#37AD6B" stroke-width="6.7"/>
<polygon points="1167.6,386.8 1200.4,386.8 1184.0,416.0" fill="#37AD6B"/>
<text class="lg" transform="translate(1272,419.1) scale(1,1.034)" x="0" y="0">EP/POPO+MMT</text>
<line x1="1110" y1="478.5" x2="1257" y2="478.5" stroke="#B177DE" stroke-width="6.7"/>
<polygon points="1184.0,460.9 1201.6,478.5 1184.0,496.1 1166.4,478.5" fill="#B177DE"/>
<text class="lg" transform="translate(1272,500.2) scale(1,1.034)" x="0" y="0">EP/DOPO-MMT</text>
</svg>
</body>
</html>
